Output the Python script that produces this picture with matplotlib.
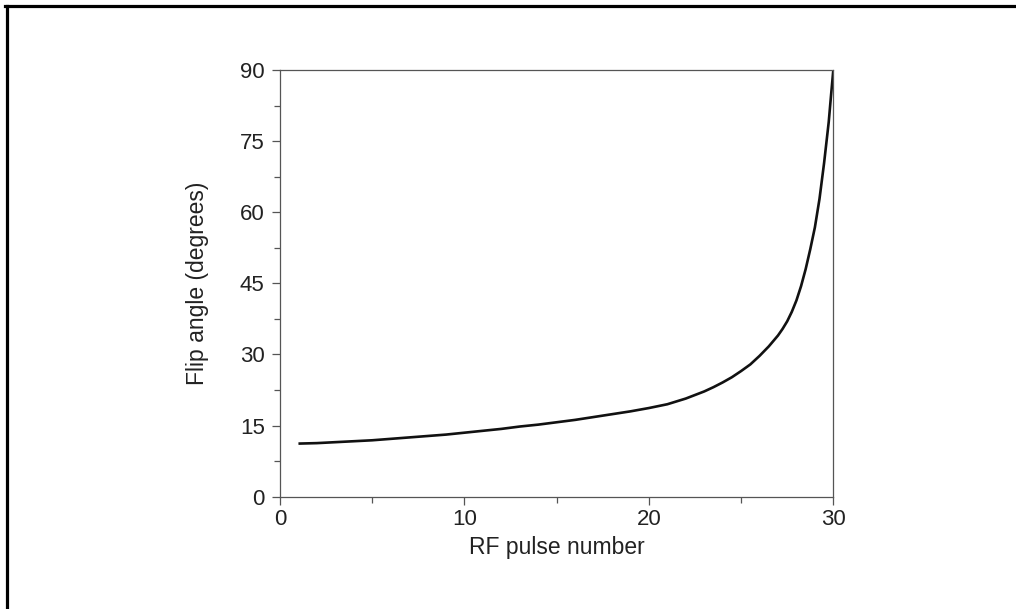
import matplotlib
matplotlib.use("Agg")
import matplotlib.pyplot as plt
from matplotlib.lines import Line2D

# values
pulse_number = [1, 2, 3, 4, 5, 6, 7, 8, 9, 10,
                11, 12, 13, 14, 15, 16, 17, 18, 19, 20,
                21, 22, 23, 23.5, 24, 24.5, 25, 25.5, 26, 26.5,
                27, 27.25, 27.5, 27.75, 28, 28.25, 28.5, 28.75, 29, 29.25,
                29.5, 29.75, 29.875, 30]
flip_angle = [11.2, 11.3, 11.5, 11.7, 11.9, 12.2, 12.5, 12.8, 13.1, 13.5,
              13.9, 14.3, 14.8, 15.2, 15.7, 16.2, 16.8, 17.4, 18.0, 18.7,
              19.5, 20.7, 22.2, 23.1, 24.1, 25.2, 26.5, 27.9, 29.7, 31.7,
              34.0, 35.4, 37.0, 39.0, 41.4, 44.4, 48.0, 52.2, 56.8, 62.8,
              70.4, 79.0, 84.6, 90.0]

x_ticks = [0, 10, 20, 30]
y_ticks = [0, 15, 30, 45, 60, 75, 90]

plt.rcParams['font.family'] = ['Liberation Sans', 'DejaVu Sans']

fig = plt.figure(figsize=(10.16, 6.09), dpi=100)
ax = fig.add_axes([0.2756, 0.1844, 0.5446, 0.7007])

ax.plot(pulse_number, flip_angle, color='#111111', lw=1.9,
        solid_capstyle='butt', solid_joinstyle='round')

ax.set_xlim(0, 30)
ax.set_ylim(0, 90)
ax.set_xticks(x_ticks)
ax.set_yticks(y_ticks)
ax.set_xticks([5, 15, 25], minor=True)
ax.set_yticks([7.5, 22.5, 37.5, 52.5, 67.5, 82.5], minor=True)

spine_col = '#555555'
for s in ax.spines.values():
    s.set_color(spine_col)
    s.set_linewidth(0.9)

ax.tick_params(which='major', direction='out', length=6, width=0.9,
               color=spine_col, labelsize=16, labelcolor='#222222')
ax.tick_params(which='minor', direction='out', length=4, width=0.9,
               color=spine_col)
ax.tick_params(axis='y', which='major', pad=5)
ax.tick_params(axis='x', which='major', pad=3)

ax.set_xlabel('RF pulse number', fontsize=16.5, color='#222222', labelpad=4)
ax.set_ylabel('Flip angle (degrees)', fontsize=16.5, color='#222222', labelpad=22)

# frame of the original figure: only left and top edges are inside the crop
fig.add_artist(Line2D([6.5 / 1016, 6.5 / 1016], [0, 1 - 6 / 609],
                      transform=fig.transFigure, color='black', lw=2.3))
fig.add_artist(Line2D([5.4 / 1016, 1], [1 - 6 / 609, 1 - 6 / 609],
                      transform=fig.transFigure, color='black', lw=2.3))

fig.savefig('out.png', dpi=100)
